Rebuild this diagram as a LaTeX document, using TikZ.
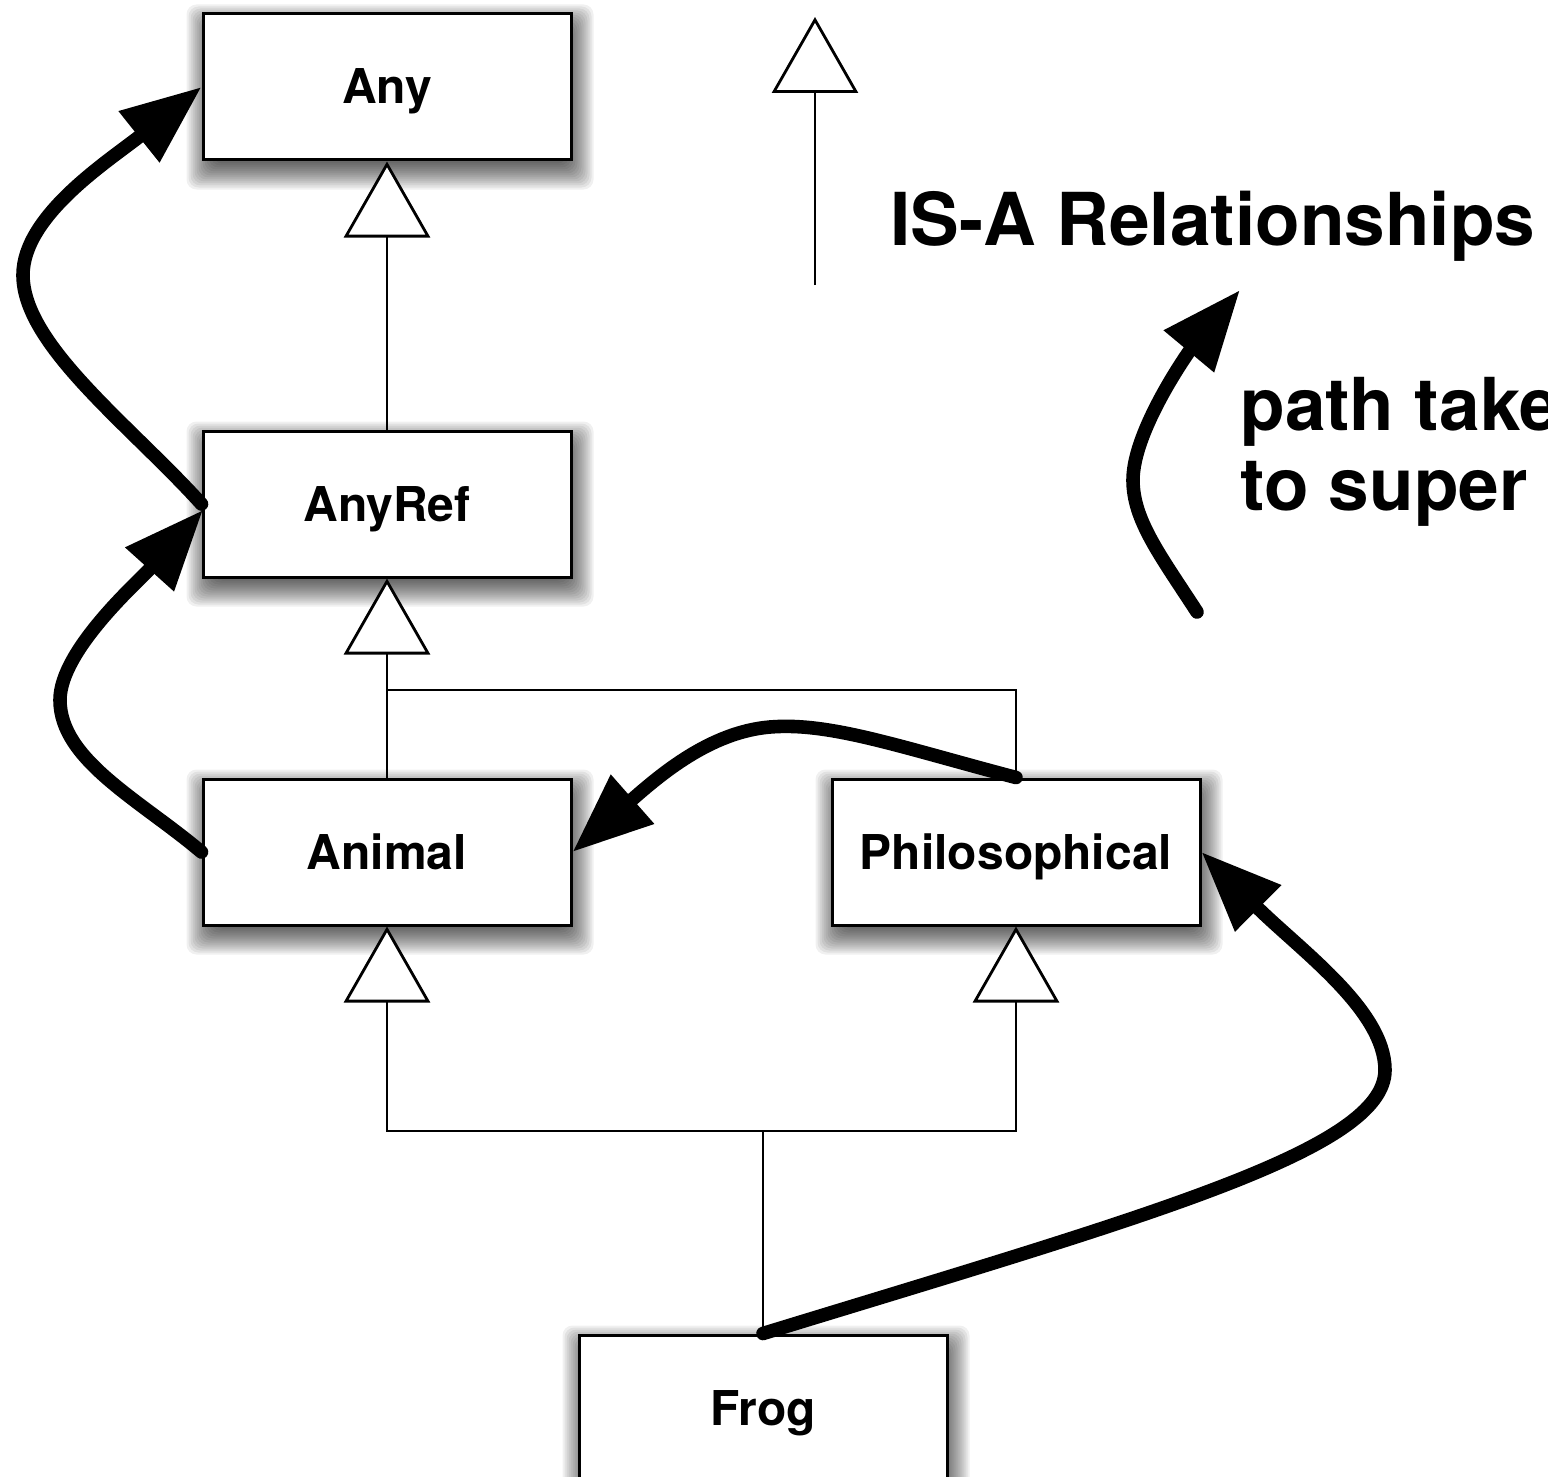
\documentclass[tikz,border=0pt]{standalone}
\usepackage{fontspec}
\setmainfont{TeX Gyre Heros}
\usetikzlibrary{arrows.meta}
\pgfdeclarelayer{shadowlayer}
\pgfsetlayers{shadowlayer,main}
\begin{document}
\begin{tikzpicture}[x=0.5pt,y=-0.5pt,
  cls/.style={draw,line width=1.5pt,fill=white,minimum width=184pt,minimum height=73pt,inner sep=0pt,
    text height=17pt,text depth=0pt,
    font=\fontsize{24}{28}\selectfont\bfseries},
  shadowpart/.style={fill=black,opacity=0.06,rounded corners=5pt},
  isa/.style={line width=1.4pt,-{Triangle[open,length=38pt,width=43pt,fill=white]}},
  thinline/.style={line width=1.4pt},
  route/.style={line width=6.8pt,line cap=round,-{Triangle[length=40pt,width=31pt]}},
  lbl/.style={font=\fontsize{36.5}{40}\selectfont\bfseries,inner sep=0pt}
]
\clip (0,0) rectangle (1548,1477);

% classes
\node[cls] (Any) at (387,87) {Any};
\node[cls] (AnyRef) at (387,504) {AnyRef};
\node[cls] (Animal) at (387,852) {Animal};
\node[cls] (Phil) at (1016,852) {Philosophical};
\node[cls] (Frog) at (763,1408) {Frog};

% soft drop shadows
\begin{pgfonlayer}{shadowlayer}
\fill[white] (0,0) rectangle (1548,1477);
\foreach \n in {Any,AnyRef,Animal,Phil,Frog}{
  \foreach \e in {-8,-6,...,18}{
    \fill[shadowpart] ([shift={({3-(\e)},{10-(\e)})}]\n.north west) rectangle ([shift={({3+(\e)},{10+(\e)})}]\n.south east);
  }
}
\end{pgfonlayer}

% junctions
\coordinate (j1) at (387,690);
\coordinate (j2) at (763,1131);

% IS-A connectors
\draw[isa] (AnyRef.north) -- (Any.south);
\draw[isa] (Animal.north) -- (AnyRef.south);
\draw[thinline] (Phil.north) |- (j1);
\draw[thinline] (Frog.north) -- (j2);
\draw[isa] (j2) -| (Animal.south);
\draw[isa] (j2) -| (Phil.south);

% legend
\coordinate (l0) at (815,285);
\coordinate (l1) at (815,17);
\draw[isa] (l0) -- (l1);
\node[lbl,anchor=base west] (isalbl) at (890,245) {IS-A Relationships};

\coordinate (p0) at (1197,612);
\coordinate (pm) at (1133,480);
\coordinate (p1) at (1240,290);
\draw[route] (p0) .. controls (1160,555) and (1133,520) .. (pm)
  .. controls (1133,430) and (1190,350) .. (p1);
\node[lbl,anchor=base west] (pt1) at (1240,430) {path taken};
\node[lbl,anchor=base west] (pt2) at (1240,510) {to super};

% super call paths
\draw[route] (Frog.north) .. controls (1150,1215) and (1385,1150) .. (1385,1070)
  .. controls (1385,1010) and (1300,950) .. (Phil.east);
\draw[route] (Phil.north) .. controls (900,747) and (830,722) .. (770,727)
  .. controls (710,732) and (660,775) .. (Animal.east);
\draw[route] (Animal.west) .. controls (140,800) and (60,760) .. (60,700)
  .. controls (60,650) and (140,580) .. (203,510);
\draw[route] (AnyRef.west) .. controls (130,425) and (23,345) .. (23,275)
  .. controls (23,215) and (110,160) .. (Any.west);
\end{tikzpicture}
\end{document}
